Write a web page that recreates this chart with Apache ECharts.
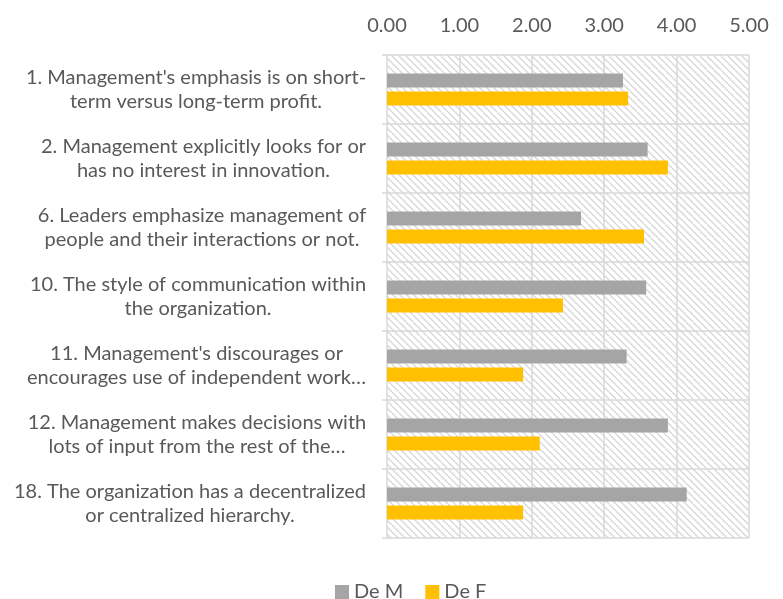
<!DOCTYPE html>
<html>
<head>
<meta charset="utf-8">
<script src="https://cdn.jsdelivr.net/npm/echarts@6/dist/echarts.min.js"></script>
<style>
    html, body { margin: 0; padding: 0; background: #fff; }
    #main { width: 783px; height: 599px; }
</style>
</head>
<body>
<div id="main"></div>
<script>
var categories = [
    "1. Management's emphasis is on short-\nterm versus long-term profit.",
    "2. Management explicitly looks for or\nhas no interest in innovation.",
    "6. Leaders emphasize management of\npeople and their interactions or not.",
    "10. The style of communication within\nthe organization.",
    "11. Management's discourages or\nencourages use of independent work\u2026",
    "12. Management makes decisions with\nlots of input from the rest of the\u2026",
    "18. The organization has a decentralized\nor centralized hierarchy."
];
var deM = [3.26, 3.60, 2.68, 3.58, 3.31, 3.88, 4.14];
var deF = [3.33, 3.88, 3.55, 2.43, 1.88, 2.11, 1.88];
var tickValues = [0, 1, 2, 3, 4, 5];

var fontFamily = 'Lato';
var fontSize = 20;
var textColor = '#595959';

// hatched fill for the plot area
function makeHatch() {
    var s = 7;
    var c = document.createElement('canvas');
    c.width = s;
    c.height = s;
    var ctx = c.getContext('2d');
    ctx.fillStyle = '#ffffff';
    ctx.fillRect(0, 0, s, s);
    ctx.strokeStyle = '#d6d6d6';
    ctx.lineWidth = 1.3;
    for (var k = -1; k <= 1; k++) {
        ctx.beginPath();
        ctx.moveTo(k * s, 0);
        ctx.lineTo(k * s + s, s);
        ctx.stroke();
    }
    return c;
}

// width of the widest line of each label, so lines can be centred in a block
var measureCtx = document.createElement('canvas').getContext('2d');
measureCtx.font = fontSize + 'px ' + fontFamily;
var rich = {};
for (var i = 0; i < categories.length; i++) {
    var lines = categories[i].split('\n');
    var w = 0;
    for (var j = 0; j < lines.length; j++) {
        w = Math.max(w, measureCtx.measureText(lines[j]).width);
    }
    rich['r' + i] = {
        width: Math.ceil(w) + 1,
        align: 'center',
        fontFamily: fontFamily,
        fontSize: fontSize,
        color: textColor,
        lineHeight: 24
    };
}

var myChart = echarts.init(document.getElementById('main'));
myChart.setOption({
    animation: false,
    grid: {
        left: 387,
        right: 34,
        top: 55,
        bottom: 61,
        show: true,
        backgroundColor: {image: makeHatch(), repeat: 'repeat'},
        borderWidth: 0
    },
    legend: {
        bottom: -8,
        left: 330,
        itemWidth: 14,
        itemHeight: 14,
        itemGap: 22,
        icon: 'rect',
        textStyle: {fontFamily: fontFamily, fontSize: fontSize, color: textColor},
        data: ['De M', 'De F']
    },
    xAxis: {
        type: 'value',
        position: 'top',
        min: tickValues[0],
        max: tickValues[tickValues.length - 1],
        interval: 1,
        axisLine: {show: false},
        axisTick: {show: false},
        axisLabel: {
            margin: 19,
            fontFamily: fontFamily,
            fontSize: fontSize,
            color: textColor,
            formatter: function (v) { return v.toFixed(2); }
        },
        splitLine: {lineStyle: {color: '#d9d9d9', width: 1.5}}
    },
    yAxis: {
        type: 'category',
        inverse: true,
        data: categories,
        axisLine: {show: false},
        axisTick: {show: true, length: 5, lineStyle: {color: '#d9d9d9', width: 1.5}},
        splitLine: {show: true, lineStyle: {color: '#d9d9d9', width: 1.5}},
        axisLabel: {
            margin: 20,
            interval: 0,
            formatter: function (value, index) {
                var parts = value.split('\n');
                var out = [];
                for (var k = 0; k < parts.length; k++) {
                    out.push('{r' + index + '|' + parts[k] + '}');
                }
                return out.join('\n');
            },
            rich: rich
        }
    },
    series: [
        {
            name: 'De M',
            type: 'bar',
            data: deM,
            barWidth: 14,
            barGap: '28%',
            itemStyle: {color: '#a5a5a5'}
        },
        {
            name: 'De F',
            type: 'bar',
            data: deF,
            barWidth: 14,
            barGap: '28%',
            itemStyle: {color: '#ffc000'}
        }
    ]
});
</script>
</body>
</html>
